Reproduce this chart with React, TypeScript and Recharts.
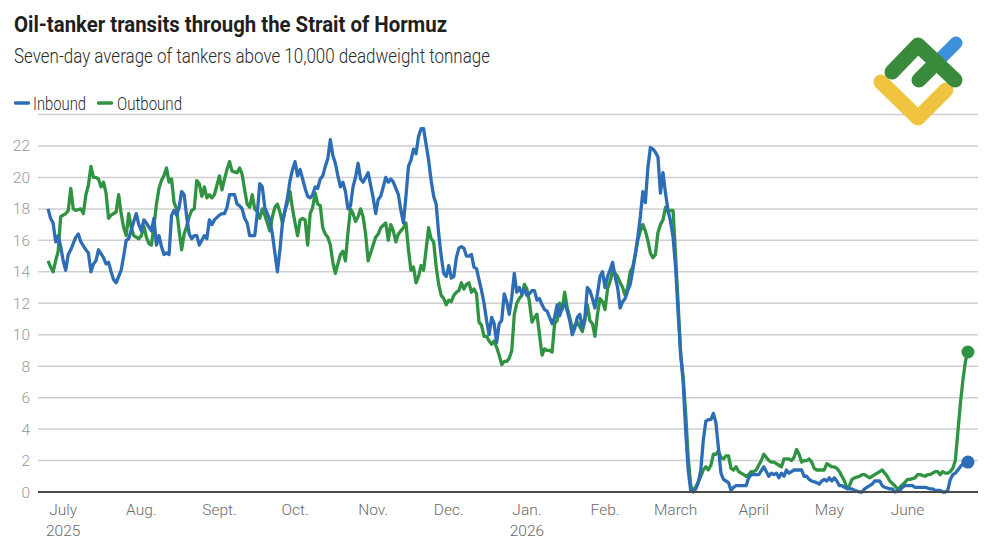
import React from 'react';
import { LineChart, Line, XAxis, YAxis, CartesianGrid, ReferenceDot } from 'recharts';

const FONT = "Roboto, 'Noto Sans', 'DejaVu Sans', sans-serif";
const BLUE = '#2d6db5';
const GREEN = '#2f9342';

// [day, seven-day average]; day 0 = 1 July 2025
const inbound: [number, number][] = [
  [-6, 18.0], [-5, 17.4], [-4, 17.1], [-3, 15.9], [-2, 16.3], [-1, 15.6], [0, 14.7], [1, 14.1], [2, 15.1], [3, 15.4],
  [5, 16.2], [6, 16.4], [7, 15.9], [9, 15.4], [10, 15.2], [11, 14.0], [12, 14.5], [13, 14.7], [14, 15.4], [16, 14.9],
  [17, 14.5], [18, 14.6], [19, 14.0], [20, 13.5], [21, 13.3], [23, 14.1], [24, 15.0], [25, 16.0], [26, 16.1], [28, 17.2],
  [29, 17.7], [30, 17.0], [31, 16.6], [32, 17.3], [33, 17.1], [35, 16.6], [36, 17.4], [37, 15.7], [38, 16.3], [39, 15.6],
  [40, 15.1], [41, 15.2], [42, 15.1], [43, 17.6], [44, 17.9], [45, 17.6], [46, 18.1], [47, 19.1], [48, 18.9], [49, 17.5],
  [50, 16.4], [51, 16.1], [52, 16.3], [53, 16.3], [54, 15.7], [55, 16.0], [56, 16.3], [57, 16.1], [58, 17.3], [59, 17.0],
  [60, 17.3], [62, 17.6], [63, 17.7], [64, 17.7], [65, 18.1], [66, 18.9], [68, 18.9], [69, 18.3], [70, 18.2], [71, 18.0],
  [72, 17.4], [73, 17.1], [74, 16.3], [76, 16.3], [77, 17.7], [78, 19.6], [79, 19.4], [80, 18.1], [81, 17.7], [82, 17.3],
  [83, 16.4], [84, 15.2], [85, 14.0], [86, 15.4], [87, 17.1], [89, 18.7], [90, 19.8], [91, 20.5], [92, 21.0], [93, 20.1],
  [94, 20.5], [95, 19.9], [96, 19.3], [97, 18.8], [98, 18.7], [99, 18.9], [100, 19.4], [101, 19.3], [102, 19.9], [103, 20.1],
  [104, 20.7], [105, 21.2], [106, 22.4], [107, 21.4], [108, 20.9], [109, 20.1], [110, 19.4], [111, 19.7], [112, 19.1], [113, 18.0],
  [114, 18.2], [115, 19.4], [116, 20.0], [117, 20.9], [118, 19.9], [119, 19.7], [120, 20.0], [121, 20.3], [122, 19.5], [123, 18.7],
  [124, 17.7], [125, 18.6], [126, 18.8], [127, 19.4], [128, 20.0], [129, 19.7], [130, 19.9], [131, 19.7], [132, 19.3], [133, 18.9],
  [134, 17.9], [135, 17.1], [136, 18.8], [137, 20.7], [138, 21.1], [139, 21.8], [140, 21.5], [141, 22.6], [142, 23.1], [143, 23.1],
  [144, 22.1], [145, 21.1], [146, 19.8], [147, 18.8], [148, 18.3], [149, 16.4], [150, 15.0], [151, 13.9], [152, 13.7], [153, 14.4],
  [154, 13.6], [155, 13.7], [156, 14.9], [157, 15.5], [158, 15.6], [159, 15.5], [160, 15.0], [161, 15.0], [162, 15.1], [163, 14.3],
  [164, 14.2], [165, 13.5], [166, 12.8], [167, 12.0], [168, 10.9], [169, 10.0], [170, 11.1], [171, 10.7], [172, 9.5], [173, 10.7],
  [174, 10.9], [175, 12.6], [176, 12.1], [177, 11.3], [178, 12.4], [179, 13.9], [180, 12.7], [181, 13.0], [182, 12.6], [183, 12.9],
  [184, 12.5], [185, 12.6], [186, 12.8], [187, 12.8], [188, 12.2], [189, 12.3], [190, 11.9], [191, 11.6], [192, 11.5], [193, 11.1],
  [194, 10.7], [195, 11.1], [196, 11.9], [197, 11.2], [198, 11.7], [199, 12.0], [200, 11.5], [201, 10.9], [202, 10.0], [203, 10.4],
  [204, 11.1], [205, 11.3], [206, 10.4], [207, 11.1], [208, 13.0], [209, 12.8], [210, 12.3], [211, 11.7], [212, 12.6], [213, 13.7],
  [214, 14.0], [215, 13.0], [216, 13.7], [217, 14.1], [218, 14.6], [219, 13.7], [220, 13.0], [221, 11.7], [222, 12.1], [223, 12.3],
  [224, 12.8], [225, 13.2], [226, 14.1], [227, 15.1], [228, 16.2], [229, 17.5], [230, 19.1], [231, 18.4], [232, 20.6], [233, 21.9],
  [234, 21.8], [235, 21.6], [236, 21.3], [237, 19.0], [238, 20.3], [239, 19.0], [240, 17.9], [241, 17.2], [242, 16.2], [243, 14.3],
  [244, 11.4], [245, 8.8], [246, 7.0], [247, 3.9], [248, 1.4], [249, 0.1], [250, 0.0], [251, 0.2], [252, 0.6], [253, 1.4],
  [254, 3.3], [255, 4.5], [256, 4.6], [257, 4.6], [258, 5.0], [259, 4.4], [260, 2.8], [261, 1.2], [262, 0.8], [263, 0.7],
  [264, 0.6], [265, 0.1], [266, 0.3], [267, 0.4], [268, 0.4], [270, 0.4], [271, 0.4], [272, 0.9], [273, 1.1], [274, 1.1],
  [275, 1.1], [276, 1.1], [278, 1.6], [279, 1.3], [280, 1.0], [281, 1.2], [282, 1.1], [283, 1.2], [284, 0.9], [285, 1.2],
  [286, 1.0], [287, 1.4], [288, 1.2], [289, 1.3], [290, 1.4], [291, 1.4], [293, 1.4], [294, 1.0], [295, 1.0], [296, 0.8],
  [297, 0.7], [299, 0.6], [300, 0.5], [301, 0.7], [302, 0.8], [303, 0.7], [304, 0.9], [305, 0.7], [306, 0.9], [307, 0.7],
  [308, 0.4], [309, 0.4], [310, 0.3], [312, 0.2], [313, 0.2], [314, 0.1], [316, 0.0], [317, 0.0], [318, 0.2], [320, 0.4],
  [321, 0.5], [322, 0.7], [324, 0.7], [325, 0.4], [326, 0.3], [328, 0.2], [329, 0.2], [330, 0.0], [332, 0.1], [333, 0.3],
  [334, 0.4], [336, 0.4], [337, 0.4], [338, 0.3], [340, 0.3], [341, 0.3], [342, 0.3], [344, 0.2], [345, 0.2], [346, 0.1],
  [348, 0.1], [349, 0.0], [350, 0.0], [351, 0.1], [352, 0.8], [353, 1.1], [354, 1.2], [355, 1.4], [356, 1.6], [357, 1.8],
  [359, 1.9],
];

const outbound: [number, number][] = [
  [-6, 14.7], [-5, 14.3], [-4, 14.0], [-3, 14.7], [-2, 15.3], [-1, 17.5], [0, 17.6], [1, 17.7], [2, 17.9], [3, 19.3],
  [4, 18.0], [5, 17.9], [7, 18.0], [8, 17.7], [9, 18.9], [10, 19.5], [11, 20.7], [12, 20.0], [13, 20.0], [14, 19.9],
  [15, 19.4], [16, 19.7], [17, 19.0], [18, 17.4], [19, 17.6], [21, 17.8], [22, 18.9], [23, 17.7], [24, 16.8], [25, 16.3],
  [26, 17.7], [27, 16.8], [28, 16.3], [30, 16.1], [31, 16.3], [32, 16.9], [33, 16.2], [34, 15.8], [35, 15.7], [36, 16.9],
  [37, 18.3], [38, 19.3], [39, 19.8], [40, 20.1], [41, 20.6], [42, 19.7], [43, 19.9], [44, 18.4], [45, 18.0], [46, 16.6],
  [47, 15.4], [48, 16.4], [49, 16.9], [50, 17.5], [51, 17.9], [52, 18.0], [53, 19.8], [54, 19.6], [55, 18.8], [56, 19.4],
  [57, 18.7], [58, 18.9], [59, 18.7], [60, 18.9], [61, 19.5], [62, 20.1], [63, 19.2], [64, 19.9], [65, 20.5], [66, 21.0],
  [67, 20.4], [69, 20.3], [70, 20.6], [71, 20.2], [72, 19.2], [73, 18.3], [74, 18.1], [75, 18.9], [76, 18.0], [77, 17.8],
  [78, 17.4], [79, 18.0], [80, 17.6], [81, 17.1], [82, 16.6], [83, 17.5], [84, 18.1], [85, 18.3], [86, 17.8], [87, 17.1],
  [88, 17.9], [89, 18.4], [90, 19.1], [91, 18.0], [92, 17.1], [93, 16.3], [94, 17.3], [95, 17.4], [96, 17.3], [97, 15.7],
  [98, 17.7], [99, 18.1], [100, 19.0], [101, 18.3], [102, 18.2], [103, 16.8], [104, 16.4], [105, 16.2], [106, 15.7], [107, 14.6],
  [108, 13.9], [109, 14.5], [110, 15.1], [111, 15.3], [112, 14.7], [113, 16.5], [114, 18.0], [115, 17.7], [116, 17.2], [117, 17.5],
  [118, 18.0], [119, 17.5], [120, 16.4], [121, 14.7], [122, 15.2], [123, 15.7], [124, 16.2], [125, 16.4], [126, 16.8], [128, 17.1],
  [129, 16.0], [130, 17.0], [131, 16.6], [132, 15.9], [133, 16.4], [134, 16.6], [135, 16.8], [136, 17.1], [137, 15.4], [138, 14.1],
  [139, 14.3], [140, 13.3], [141, 13.7], [142, 14.4], [143, 14.1], [144, 15.4], [145, 16.8], [146, 16.1], [147, 15.9], [148, 14.3],
  [149, 13.2], [150, 12.5], [151, 12.3], [152, 11.9], [153, 12.2], [154, 12.1], [155, 12.5], [156, 12.7], [157, 12.8], [158, 13.3],
  [159, 12.9], [160, 13.2], [161, 13.3], [162, 12.7], [163, 12.9], [164, 12.6], [165, 10.8], [166, 10.6], [167, 9.9], [168, 9.9],
  [169, 9.6], [170, 9.4], [171, 9.6], [172, 9.2], [173, 8.7], [174, 8.1], [175, 8.3], [176, 8.3], [177, 8.5], [178, 9.0],
  [179, 11.3], [180, 12.0], [181, 12.3], [182, 12.5], [183, 13.2], [184, 12.9], [185, 12.1], [186, 10.8], [187, 11.1], [188, 11.3],
  [189, 10.0], [190, 8.7], [191, 9.1], [192, 9.0], [193, 9.0], [194, 8.9], [195, 10.7], [196, 10.9], [197, 12.0], [198, 11.6],
  [199, 12.7], [200, 11.7], [201, 11.1], [202, 10.4], [203, 10.6], [204, 10.8], [205, 10.5], [206, 10.2], [207, 10.9], [208, 11.9],
  [209, 10.9], [210, 10.7], [211, 9.9], [212, 11.3], [213, 12.3], [214, 12.1], [215, 11.6], [216, 12.9], [217, 13.4], [218, 14.0],
  [219, 13.9], [220, 13.7], [221, 13.3], [222, 13.0], [223, 12.5], [224, 13.0], [225, 14.0], [226, 14.3], [227, 15.1], [228, 16.0],
  [229, 16.6], [230, 17.0], [231, 16.6], [232, 16.0], [233, 15.2], [234, 14.9], [235, 15.1], [236, 16.5], [237, 17.0], [238, 17.3],
  [239, 18.1], [240, 17.8], [241, 17.9], [242, 17.9], [243, 15.0], [244, 12.0], [245, 8.8], [246, 7.3], [247, 5.0], [248, 2.2],
  [249, 0.4], [250, 0.1], [251, 0.3], [253, 1.0], [254, 1.4], [255, 1.6], [256, 1.4], [257, 1.7], [258, 2.4], [259, 2.4],
  [260, 2.6], [261, 2.2], [262, 2.1], [263, 2.3], [264, 2.3], [265, 1.5], [266, 1.4], [267, 1.6], [268, 1.3], [269, 1.2],
  [270, 1.1], [271, 1.0], [272, 1.1], [273, 1.3], [274, 1.3], [275, 1.4], [276, 1.7], [277, 2.0], [278, 2.4], [279, 2.2],
  [280, 2.0], [281, 1.9], [282, 1.9], [283, 1.8], [284, 1.7], [285, 1.6], [286, 2.1], [287, 2.1], [288, 2.1], [289, 2.0],
  [290, 2.2], [291, 2.7], [292, 2.4], [293, 1.9], [294, 2.0], [295, 2.0], [296, 2.1], [297, 1.9], [298, 1.5], [299, 1.4],
  [300, 1.4], [302, 1.4], [303, 1.8], [304, 1.7], [305, 1.6], [306, 1.6], [307, 1.5], [308, 1.3], [309, 1.0], [310, 0.7],
  [311, 0.2], [312, 0.4], [313, 0.8], [314, 0.9], [316, 1.0], [317, 1.1], [318, 1.1], [320, 0.9], [321, 1.0], [322, 1.1],
  [324, 1.3], [325, 1.4], [326, 1.2], [327, 1.0], [328, 0.7], [330, 0.4], [331, 0.2], [332, 0.3], [334, 0.6], [335, 0.8],
  [336, 0.8], [338, 0.9], [339, 1.1], [340, 1.1], [342, 1.0], [343, 1.1], [344, 1.1], [346, 1.3], [347, 1.3], [348, 1.1],
  [349, 1.3], [350, 1.2], [351, 1.2], [352, 1.3], [353, 1.5], [354, 2.0], [355, 3.8], [356, 5.6], [357, 7.1], [358, 8.3],
  [359, 8.9],
];

// Month ticks sit on the first day of each month
const monthTickDays = [0, 31, 62, 92, 123, 153, 184, 215, 243, 274, 304, 335];
const monthLabels = ['July', 'Aug.', 'Sept.', 'Oct.', 'Nov.', 'Dec.', 'Jan.', 'Feb.', 'March', 'April', 'May', 'June'];
const yearTickDays = [0, 184];
const yearLabels = ['2025', '2026'];
const yTicks = [0, 2, 4, 6, 8, 10, 12, 14, 16, 18, 20, 22];

const inboundData = inbound.map(([day, value]) => ({ day, value }));
const outboundData = outbound.map(([day, value]) => ({ day, value }));
const lastIn = inbound[inbound.length - 1];
const lastOut = outbound[outbound.length - 1];

const MonthTick = (props: any) => {
  const { x, y, payload } = props;
  const i = monthTickDays.indexOf(payload.value);
  const yi = yearTickDays.indexOf(payload.value);
  return (
    <text x={x} y={y} textAnchor="middle" fill="#6a6a6a" fontSize={15.5} fontWeight={300} fontFamily={FONT}>
      <tspan x={x} dy={15}>{monthLabels[i]}</tspan>
      {yi >= 0 && <tspan x={x} dy={21}>{yearLabels[yi]}</tspan>}
    </text>
  );
};

const Header = () => (
  <svg width={1000} height={130} style={{ position: 'absolute', left: 0, top: 0 }}>
    <text x={14} y={32} fontFamily={FONT} fontWeight={700} fontSize={22.5} fill="#1f1f1f"
      textLength={433} lengthAdjust="spacingAndGlyphs">
      Oil-tanker transits through the Strait of Hormuz
    </text>
    <text x={14} y={63} fontFamily={FONT} fontWeight={300} fontSize={21} fill="#2a2a2a"
      textLength={476} lengthAdjust="spacingAndGlyphs">
      Seven-day average of tankers above 10,000 deadweight tonnage
    </text>
    <line x1={15.5} x2={28.5} y1={103} y2={103} stroke={BLUE} strokeWidth={3.5} strokeLinecap="round" />
    <text x={33} y={110} fontFamily={FONT} fontWeight={300} fontSize={18.5} fill="#2a2a2a"
      textLength={53} lengthAdjust="spacingAndGlyphs">Inbound</text>
    <line x1={98.5} x2={111.5} y1={103} y2={103} stroke={GREEN} strokeWidth={3.5} strokeLinecap="round" />
    <text x={117} y={110} fontFamily={FONT} fontWeight={300} fontSize={18.5} fill="#2a2a2a"
      textLength={65} lengthAdjust="spacingAndGlyphs">Outbound</text>
    {/* brand mark */}
    <g fill="none" strokeLinecap="round" strokeLinejoin="round">
      <polyline points="881,82 918,118 946,90" stroke="#f0c43e" strokeWidth={15} />
      <line x1={919} y1={80} x2={956} y2={43} stroke="#3d8fdc" strokeWidth={13} />
      <line x1={919} y1={80} x2={937} y2={62} stroke="#3a8a3c" strokeWidth={15} />
      <polyline points="892,72 918,45 955,80" stroke="#3a8a3c" strokeWidth={15} />
    </g>
  </svg>
);

export default function App() {
  return (
    <div style={{ position: 'absolute', left: 0, top: 0, width: 1000, height: 545, background: '#fff' }}>
      <LineChart width={1000} height={545} margin={{ top: 114.5, right: 22, bottom: 23, left: 0 }}>
        <CartesianGrid vertical={false} stroke="#cfcfcf" strokeWidth={1.5} />
        <XAxis
          dataKey="day"
          type="number"
          domain={[-10, 363]}
          ticks={monthTickDays}
          interval={0}
          height={30}
          tickLine={false}
          axisLine={{ stroke: '#4a4a4a', strokeWidth: 2 }}
          tick={<MonthTick />}
        />
        <YAxis
          type="number"
          domain={[0, 24]}
          ticks={yTicks}
          interval={0}
          width={38}
          axisLine={false}
          tickLine={false}
          tick={{ fontSize: 15.5, fill: '#999999', fontFamily: FONT, fontWeight: 300 }}
        />
        <Line data={outboundData} dataKey="value" type="linear" stroke={GREEN} strokeWidth={3.3}
          dot={false} activeDot={false} isAnimationActive={false} strokeLinejoin="round" />
        <Line data={inboundData} dataKey="value" type="linear" stroke={BLUE} strokeWidth={3.3}
          dot={false} activeDot={false} isAnimationActive={false} strokeLinejoin="round" />
        <ReferenceDot x={lastOut[0]} y={lastOut[1]} r={6.5} fill={GREEN} stroke="none" />
        <ReferenceDot x={lastIn[0]} y={lastIn[1]} r={6.5} fill={BLUE} stroke="none" />
      </LineChart>
      <Header />
    </div>
  );
}
